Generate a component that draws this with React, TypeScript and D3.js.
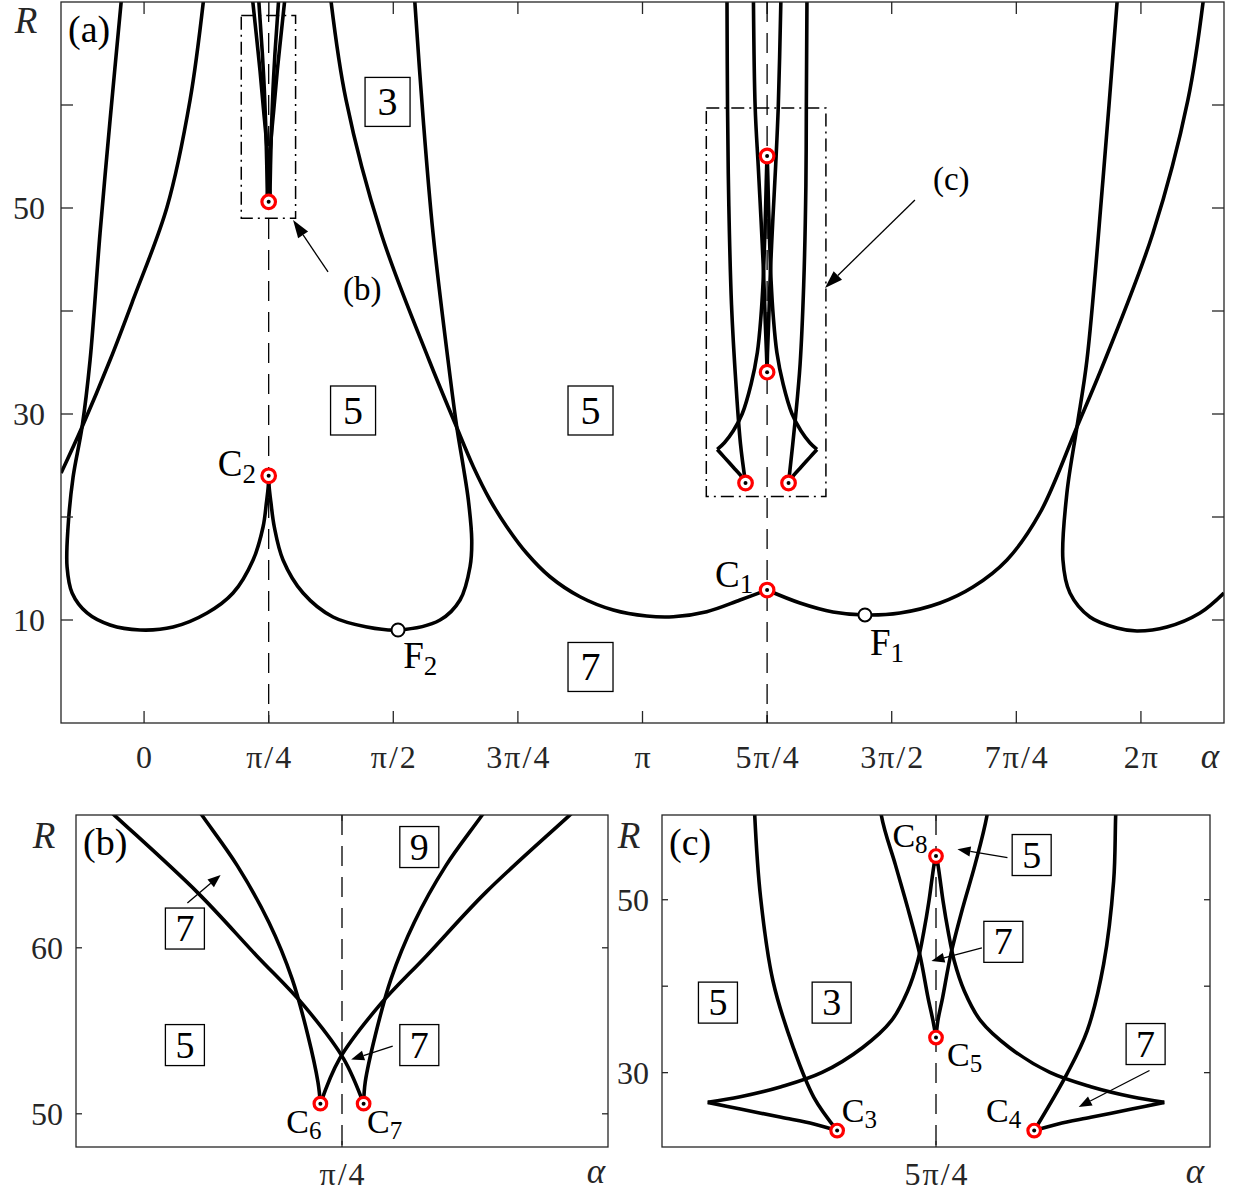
import * as d3 from 'd3';

type Pt = [number, number]; // [alpha / pi, R]

// ---------- panel (a): main boundary curves ----------
const LOBE0_LEFT: Pt[] = [
  [-0.045, 70.5], [-0.0682, 58.54], [-0.0883, 47.57], [-0.1083, 35.24], [-0.1244, 28.74],
  [-0.1424, 23.88], [-0.1525, 19.03], [-0.1545, 15.15], [-0.1444, 12.62], [-0.1143, 10.68],
  [-0.0682, 9.51], [-0.008, 9.03], [0.0582, 9.32], [0.1264, 10.68], [0.1785, 12.62],
  [0.2187, 15.83], [0.2387, 19.03], [0.2455, 21.4], [0.2492, 23.0], [0.25, 24.0],
];
const LOBE0_RIGHT: Pt[] = [
  [0.25, 24.0], [0.2508, 23.0], [0.2545, 21.4], [0.2613, 19.03], [0.2788, 15.83], [0.319, 12.62],
  [0.3791, 10.29], [0.4473, 9.32], [0.5095, 9.03], [0.5938, 10.0], [0.6339, 11.94], [0.654, 15.17],
  [0.6574, 17.77], [0.6506, 21.65], [0.6405, 24.88], [0.6273, 28.77], [0.6098, 35.24],
  [0.5797, 47.57], [0.5597, 58.83], [0.5425, 70.5],
];
const C1_LEFT: Pt[] = [
  [0.374, 70.5], [0.4052, 60.49], [0.4754, 47.57], [0.5717, 35.24], [0.6239, 29.1], [0.6606, 24.88],
  [0.6941, 21.65], [0.7276, 19.06], [0.7677, 16.48], [0.8144, 14.2], [0.8746, 12.26], [0.9414, 10.97],
  [1.0084, 10.39], [1.0618, 10.32], [1.1288, 10.81], [1.1956, 11.94], [1.25, 12.91],
];
const C1_RIGHT: Pt[] = [
  [1.25, 12.91], [1.3159, 11.65], [1.3821, 10.78], [1.4463, 10.49], [1.5165, 10.68], [1.5968, 11.65],
  [1.663, 13.2], [1.7312, 15.83], [1.7974, 20.39], [1.8716, 28.74], [1.9278, 35.24], [2.0241, 47.57],
  [2.0943, 60.49], [2.126, 70.5],
];
const EDGE_LEFT: Pt[] = [
  [-0.1665, 24.27], [-0.1244, 28.74], [-0.0682, 35.24], [-0.0221, 41.07], [0.0461, 50.1],
  [0.0923, 60.49], [0.12, 70.5],
];
const LOBE_2PI: Pt[] = [
  [1.953, 70.5], [1.9238, 52.72], [1.8917, 35.24], [1.8716, 28.74], [1.8515, 22.33], [1.8435, 15.83],
  [1.8576, 12.62], [1.8977, 10.29], [1.9519, 9.22], [1.992, 8.93], [2.0522, 9.32], [2.1184, 10.68],
  [2.1665, 12.62],
];

// ---------- branches near pi/4 (panels a and b) ----------
const B1: Pt[] = [[0.2526, 50.61], [0.2502, 53.31], [0.2454, 56.53], [0.2397, 59.54], [0.2326, 63.34], [0.2227, 67.95], [0.2171, 70.5]];
const B2: Pt[] = [[0.2474, 50.61], [0.2471, 51.93], [0.2459, 54.72], [0.244, 58.13], [0.2412, 61.54], [0.2374, 64.95], [0.2332, 67.95], [0.2296, 70.5]];
const B3: Pt[] = [[0.2526, 50.61], [0.2528, 51.93], [0.254, 54.72], [0.2559, 58.13], [0.2587, 61.54], [0.2625, 64.95], [0.2668, 67.95], [0.2704, 70.5]];
const B4: Pt[] = [[0.2474, 50.61], [0.2497, 53.31], [0.2545, 56.53], [0.2602, 59.54], [0.2673, 63.34], [0.2773, 67.95], [0.2829, 70.5]];

// ---------- branches near 5pi/4 (panels a and c) ----------
const C_OUTER_L: Pt[] = [[1.1695, 70.5], [1.1706, 59.83], [1.1732, 50.21], [1.1786, 40.6], [1.1875, 32.9], [1.1965, 27.14], [1.2067, 23.3]];
const C_OUTER_R: Pt[] = [[1.33, 70.5], [1.3287, 59.83], [1.3278, 52.14], [1.3234, 42.52], [1.3162, 34.83], [1.3073, 29.83], [1.293, 23.3]];
const SW_LOW_L: Pt[] = [[1.2067, 23.3], [1.1965, 24.06], [1.1822, 24.83], [1.1643, 25.79], [1.15, 26.56]];
const SW_UP_L: Pt[] = [
  [1.15, 26.56], [1.1643, 27.21], [1.1822, 28.37], [1.2001, 30.02], [1.2179, 32.91], [1.2304, 35.98],
  [1.2376, 39.45], [1.242, 42.91], [1.2447, 46.37], [1.2469, 49.83], [1.2483, 52.52], [1.2494, 54.45], [1.25, 55.05],
];
const SW_UP_R: Pt[] = [
  [1.25, 55.05], [1.2506, 54.45], [1.2517, 52.52], [1.2531, 49.83], [1.2553, 46.37], [1.258, 42.91],
  [1.2624, 39.45], [1.2696, 35.98], [1.2821, 32.91], [1.2999, 30.02], [1.3178, 28.37], [1.3357, 27.21], [1.35, 26.56],
];
const SW_LOW_R: Pt[] = [[1.35, 26.56], [1.3357, 25.79], [1.3178, 24.83], [1.3035, 24.06], [1.293, 23.3]];
const V_LEFT: Pt[] = [[1.2225, 70.5], [1.226, 59.83], [1.2322, 54.06], [1.2376, 49.06], [1.2429, 43.68], [1.2465, 38.68], [1.2487, 35.98], [1.25, 34.06]];
const V_RIGHT: Pt[] = [[1.25, 34.06], [1.2508, 35.98], [1.2529, 38.68], [1.2565, 43.68], [1.2617, 49.06], [1.2671, 54.06], [1.2724, 59.83], [1.2778, 70.5]];

const B_CURVES = [B1, B2, B3, B4];
const C_CURVES = [C_OUTER_L, C_OUTER_R, SW_LOW_L, SW_UP_L, SW_UP_R, SW_LOW_R, V_LEFT, V_RIGHT];
const A_CURVES = [LOBE0_LEFT, LOBE0_RIGHT, C1_LEFT, C1_RIGHT, EDGE_LEFT, LOBE_2PI, ...B_CURVES, ...C_CURVES];

// ---------- markers ----------
const CUSPS_A: Pt[] = [[0.25, 24.0], [1.25, 12.91], [0.25, 50.6], [1.25, 55.05], [1.25, 34.06], [1.2067, 23.3], [1.293, 23.3]];
const FOLDS_A: Pt[] = [[0.5095, 9.03], [1.4463, 10.49]];
const CUSPS_B: Pt[] = [[0.2474, 50.61], [0.2526, 50.61]];
const CUSPS_C: Pt[] = [[1.25, 55.05], [1.25, 34.06], [1.2067, 23.3], [1.293, 23.3]];

// ---------- ticks ----------
const A_XTICKS = [0, 0.25, 0.5, 0.75, 1, 1.25, 1.5, 1.75, 2];
const A_XLABELS = ['0', 'π/4', 'π/2', '3π/4', 'π', '5π/4', '3π/2', '7π/4', '2π'];
const A_YTICKS = [10, 20, 30, 40, 50, 60];
const A_YLABELS = ['10', '', '30', '', '50', ''];
const B_YTICKS = [50, 60];
const C_YTICKS = [30, 40, 50];
const C_YLABELS = ['30', '', '50'];

// ---------- annotations (data coordinates) ----------
const REGIONS_A: [string, number, number][] = [['3', 0.4885, 60.3], ['5', 0.4193, 30.34], ['5', 0.8957, 30.34], ['7', 0.8957, 5.44]];
const POINTS_A: [string, string, number, number][] = [['C', '2', 0.148, 24.0], ['F', '2', 0.52, 5.31], ['C', '1', 1.1454, 13.23], ['F', '1', 1.4564, 6.6]];
const INSET_BOX_B = [0.195, 0.304, 49, 68.7];
const INSET_BOX_C = [1.128, 1.368, 22, 59.7];
const CALLOUTS_A: [string, Pt, Pt, Pt][] = [
  ['(b)', [0.3992, 41.07], [0.3691, 43.79], [0.2989, 48.83]],
  ['(c)', [1.5828, 51.75], [1.5466, 50.78], [1.3661, 42.23]],
];
const REGIONS_B: [string, number, number][] = [['9', 0.2593, 66.07], ['7', 0.2311, 61.16], ['5', 0.2311, 54.14], ['7', 0.2593, 54.14]];
const ARROWS_B: [Pt, Pt][] = [[[0.2314, 62.7], [0.2354, 64.39]], [[0.2561, 54.08], [0.2511, 53.27]]];
const POINTS_B: [string, string, number, number][] = [['C', '6', 0.2433, 48.84], ['C', '7', 0.253, 48.84]];
const REGIONS_C: [string, number, number][] = [['5', 1.1545, 38.1], ['3', 1.2043, 38.1], ['5', 1.2919, 55.17], ['7', 1.2795, 45.13], ['7', 1.3418, 33.31]];
const ARROWS_C: [Pt, Pt][] = [[[1.2813, 54.87], [1.2594, 55.83]], [[1.2701, 44.42], [1.248, 42.91]], [[1.3435, 30.25], [1.3125, 26.03]]];
const POINTS_C: [string, string, number, number][] = [['C', '8', 1.2309, 56.1], ['C', '5', 1.2548, 30.77], ['C', '3', 1.2087, 24.29], ['C', '4', 1.2719, 24.29]];

const AXIS = '#262626';
const FONT = '"Liberation Serif", "Times New Roman", serif';
const LW = 3.6;

type Scale = d3.ScaleLinear<number, number>;

function Arrow({ p, q, head, half }: { p: [number, number]; q: [number, number]; head: number; half: number }) {
  const ang = Math.atan2(q[1] - p[1], q[0] - p[0]);
  const bx = q[0] - head * Math.cos(ang);
  const by = q[1] - head * Math.sin(ang);
  const nx = -Math.sin(ang) * half;
  const ny = Math.cos(ang) * half;
  return (
    <g>
      <line x1={p[0]} y1={p[1]} x2={bx} y2={by} stroke="#000" strokeWidth={1.3} />
      <polygon points={`${q[0]},${q[1]} ${bx + nx},${by + ny} ${bx - nx},${by - ny}`} fill="#000" />
    </g>
  );
}

function RegionBox({ cx, cy, n, w, h, fs }: { cx: number; cy: number; n: string; w: number; h: number; fs: number }) {
  return (
    <g>
      <rect x={cx - w / 2} y={cy - h / 2} width={w} height={h} fill="#fff" stroke="#000" strokeWidth={1.3} />
      <text x={cx} y={cy + fs * 0.33} textAnchor="middle" fontSize={fs}>{n}</text>
    </g>
  );
}

function PointLabel({ x, y, t, s, fs, sfs }: { x: number; y: number; t: string; s: string; fs: number; sfs: number }) {
  return (
    <text x={x} y={y} fontSize={fs}>
      {t}
      <tspan fontSize={sfs} dy={sfs * 0.25}>{s}</tspan>
    </text>
  );
}

function Cusp({ x, y, r }: { x: number; y: number; r: number }) {
  return (
    <g>
      <circle cx={x} cy={y} r={r} fill="#fff" stroke="#f00" strokeWidth={3.2} />
      <circle cx={x} cy={y} r={2} fill="#000" />
    </g>
  );
}

interface PanelProps {
  id: string;
  x: Scale;
  y: Scale;
  curves: Pt[][];
  guide: number;
  tickLen: number;
  xTicks: number[];
  xLabels: string[];
  yTicks: number[];
  yLabels: string[];
  tag: string;
  xLabelDy: number;
  yLabelDx: number;
  rPos: [number, number];
  alphaPos: [number, number];
  children?: any;
}

function Panel(p: PanelProps) {
  const [x0, x1] = p.x.range();
  const [y1, y0] = p.y.range();
  const line = d3
    .line<Pt>()
    .x((d) => p.x(d[0]))
    .y((d) => p.y(d[1]))
    .curve(d3.curveCatmullRom.alpha(0.5));
  const gx = p.x(p.guide);
  return (
    <g fontFamily={FONT}>
      <defs>
        <clipPath id={`clip-${p.id}`}>
          <rect x={x0} y={y0} width={x1 - x0} height={y1 - y0} />
        </clipPath>
      </defs>
      <g clipPath={`url(#clip-${p.id})`}>
        <line x1={gx} x2={gx} y1={y0} y2={y1} stroke="#000" strokeWidth={1.3} strokeDasharray="20 11" />
        {p.curves.map((c, i) => (
          <path key={i} d={line(c) ?? ''} fill="none" stroke="#000" strokeWidth={LW} strokeLinejoin="round" />
        ))}
      </g>
      <rect x={x0} y={y0} width={x1 - x0} height={y1 - y0} fill="none" stroke={AXIS} strokeWidth={1.3} />
      {p.xTicks.map((t, i) => (
        <g key={`x${i}`}>
          <line x1={p.x(t)} x2={p.x(t)} y1={y1} y2={y1 - p.tickLen} stroke={AXIS} strokeWidth={1.3} />
          <line x1={p.x(t)} x2={p.x(t)} y1={y0} y2={y0 + p.tickLen} stroke={AXIS} strokeWidth={1.3} />
          <text x={p.x(t) + 1} y={y1 + p.xLabelDy} textAnchor="middle" fontSize={32} letterSpacing={2} fill={AXIS}>
            {p.xLabels[i]}
          </text>
        </g>
      ))}
      {p.yTicks.map((t, i) => (
        <g key={`y${i}`}>
          <line x1={x0} x2={x0 + p.tickLen} y1={p.y(t)} y2={p.y(t)} stroke={AXIS} strokeWidth={1.3} />
          <line x1={x1} x2={x1 - p.tickLen} y1={p.y(t)} y2={p.y(t)} stroke={AXIS} strokeWidth={1.3} />
          <text x={x0 - p.yLabelDx} y={p.y(t) + 11} textAnchor="end" fontSize={32} fill={AXIS}>
            {p.yLabels[i]}
          </text>
        </g>
      ))}
      <text x={x0 + p.rPos[0]} y={y0 + p.rPos[1]} textAnchor="middle" fontSize={37} fontStyle="italic" fill={AXIS}>
        R
      </text>
      <text x={x1 + p.alphaPos[0]} y={y1 + p.alphaPos[1]} textAnchor="middle" fontSize={35} fontStyle="italic" fill={AXIS}>
        α
      </text>
      <text x={x0 + 7} y={y0 + 40} fontSize={38}>
        {p.tag}
      </text>
      {p.children}
    </g>
  );
}

export default function App() {
  const xA = d3.scaleLinear().domain([-1 / 6, 13 / 6]).range([61, 1224]);
  const yA = d3.scaleLinear().domain([0, 70]).range([723, 2]);
  const xB = d3.scaleLinear().domain([0.218, 0.282]).range([76, 608]);
  const yB = d3.scaleLinear().domain([48, 68]).range([1147, 815]);
  const xC = d3.scaleLinear().domain([1.13, 1.37]).range([662, 1210]);
  const yC = d3.scaleLinear().domain([21.4, 59.8]).range([1147, 815]);

  const boxRect = (b: number[]) => ({
    x: xA(b[0]),
    y: yA(b[3]),
    width: xA(b[1]) - xA(b[0]),
    height: yA(b[2]) - yA(b[3]),
  });

  return (
    <svg
      width={1233}
      height={1193}
      style={{ position: 'absolute', left: 0, top: 0, background: '#fff' }}
      fontFamily={FONT}
    >
      <rect width={1233} height={1193} fill="#fff" />

      {/* (a) */}
      <Panel
        id="a"
        x={xA}
        y={yA}
        curves={A_CURVES}
        guide={0.25}
        tickLen={12}
        xTicks={A_XTICKS}
        xLabels={A_XLABELS}
        yTicks={A_YTICKS}
        yLabels={A_YLABELS}
        tag="(a)"
        xLabelDy={45}
        yLabelDx={16}
        rPos={[-35, 31]}
        alphaPos={[-14, 45]}
      >
        <line x1={xA(1.25)} x2={xA(1.25)} y1={yA(70)} y2={yA(0)} stroke="#000" strokeWidth={1.3} strokeDasharray="20 11" />
        {[INSET_BOX_B, INSET_BOX_C].map((b, i) => (
          <rect key={i} {...boxRect(b)} fill="none" stroke="#000" strokeWidth={1.5} strokeDasharray="13 5 2 5" />
        ))}
        {REGIONS_A.map(([n, a, r], i) => (
          <RegionBox key={i} cx={xA(a)} cy={yA(r)} n={n} w={45} h={49} fs={40} />
        ))}
        {POINTS_A.map(([t, s, a, r], i) => (
          <PointLabel key={i} x={xA(a)} y={yA(r)} t={t} s={s} fs={37} sfs={27} />
        ))}
        {CALLOUTS_A.map(([t, at, from, to], i) => (
          <g key={i}>
            <text x={xA(at[0])} y={yA(at[1])} fontSize={33}>{t}</text>
            <Arrow p={[xA(from[0]), yA(from[1])]} q={[xA(to[0]), yA(to[1])]} head={18} half={6} />
          </g>
        ))}
        {CUSPS_A.map(([a, r], i) => (
          <Cusp key={i} x={xA(a)} y={yA(r)} r={6.8} />
        ))}
        {FOLDS_A.map(([a, r], i) => (
          <circle key={i} cx={xA(a)} cy={yA(r)} r={6.5} fill="#fff" stroke="#000" strokeWidth={2} />
        ))}
      </Panel>

      {/* (b) */}
      <Panel
        id="b"
        x={xB}
        y={yB}
        curves={B_CURVES}
        guide={0.25}
        tickLen={6}
        xTicks={[0.25]}
        xLabels={['π/4']}
        yTicks={B_YTICKS}
        yLabels={['50', '60']}
        tag="(b)"
        xLabelDy={38}
        yLabelDx={13}
        rPos={[-32, 33]}
        alphaPos={[-12, 36]}
      >
        {REGIONS_B.map(([n, a, r], i) => (
          <RegionBox key={i} cx={xB(a)} cy={yB(r)} n={n} w={39} h={41} fs={38} />
        ))}
        {ARROWS_B.map(([from, to], i) => (
          <Arrow key={i} p={[xB(from[0]), yB(from[1])]} q={[xB(to[0]), yB(to[1])]} head={13} half={5} />
        ))}
        {POINTS_B.map(([t, s, a, r], i) => (
          <PointLabel key={i} x={xB(a)} y={yB(r)} t={t} s={s} fs={34} sfs={25} />
        ))}
        {CUSPS_B.map(([a, r], i) => (
          <Cusp key={i} x={xB(a)} y={yB(r)} r={6.3} />
        ))}
      </Panel>

      {/* (c) */}
      <Panel
        id="c"
        x={xC}
        y={yC}
        curves={C_CURVES}
        guide={1.25}
        tickLen={6}
        xTicks={[1.25]}
        xLabels={['5π/4']}
        yTicks={C_YTICKS}
        yLabels={C_YLABELS}
        tag="(c)"
        xLabelDy={38}
        yLabelDx={13}
        rPos={[-33, 33]}
        alphaPos={[-15, 36]}
      >
        {REGIONS_C.map(([n, a, r], i) => (
          <RegionBox key={i} cx={xC(a)} cy={yC(r)} n={n} w={39} h={41} fs={38} />
        ))}
        {ARROWS_C.map(([from, to], i) => (
          <Arrow key={i} p={[xC(from[0]), yC(from[1])]} q={[xC(to[0]), yC(to[1])]} head={13} half={5} />
        ))}
        {POINTS_C.map(([t, s, a, r], i) => (
          <PointLabel key={i} x={xC(a)} y={yC(r)} t={t} s={s} fs={34} sfs={25} />
        ))}
        {CUSPS_C.map(([a, r], i) => (
          <Cusp key={i} x={xC(a)} y={yC(r)} r={6.3} />
        ))}
      </Panel>
    </svg>
  );
}
